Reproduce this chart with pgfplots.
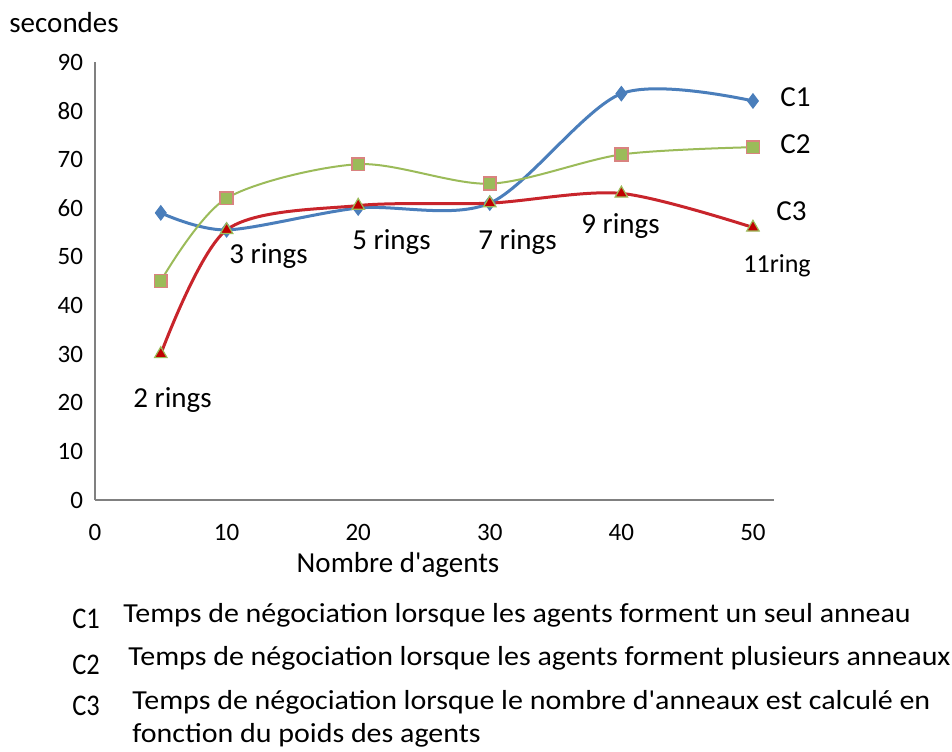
\documentclass[border=0pt]{standalone}
\usepackage{fontspec}
\setmainfont{Carlito}[Ligatures=TeXOff]
\newfontfamily\legfont{Carlito}[Ligatures=TeXOff, FakeStretch=1.09]
\newfontfamily\cfont{Carlito}[Ligatures=TeXOff, FakeStretch=0.88]
\usepackage{pgfplots}
\pgfplotsset{compat=1.18}
\definecolor{cblue}{HTML}{4A7EBB}
\definecolor{cgreen}{HTML}{9BBB59}
\definecolor{cred}{HTML}{C8242B}
\definecolor{cpink}{HTML}{D9837F}
\definecolor{cdark}{HTML}{C00000}
\begin{document}
\begin{tikzpicture}
\path[use as bounding box] (0,0) rectangle (476pt,-375.5pt);
\begin{axis}[
  at={(47.5pt,-250pt)}, anchor=south west,
  scale only axis, width=339.5pt, height=219pt,
  xmin=0, xmax=51.6, ymin=0, ymax=90,
  axis x line=bottom, axis y line=left,
  axis line style={-, draw=gray, line width=0.6pt},
  xtick={0,10,20,30,40,50}, ytick={0,10,20,30,40,50,60,70,80,90},
  major tick length=0pt,
  tick label style={font=\fontsize{12.5}{14}\selectfont, text=black},
  yticklabel style={xshift=-2.5pt},
  xticklabel style={yshift=-8.5pt},
  /pgf/number format/assume math mode=true,
  clip=false,
]
\addplot[cblue, line width=1.5pt, smooth, mark=diamond*, mark size=3.6pt, mark options={fill=cblue, draw=cblue, line width=0.5pt}]
  coordinates {(5,59) (10,55.5) (20,60) (30,61) (40,83.5) (50,82)};
\addplot[cgreen, line width=1pt, smooth, mark=square*, mark size=3.2pt, mark options={fill=cgreen, draw=cpink, line width=0.8pt}]
  coordinates {(5,45) (10,62) (20,69) (30,65) (40,71) (50,72.5)};
\addplot[cred, line width=1.5pt, smooth, mark=triangle*, mark size=3.6pt, mark options={fill=cdark, draw=cgreen, line width=0.6pt}]
  coordinates {(5,30) (10,55.5) (20,60.5) (30,61) (40,63) (50,56)};
\end{axis}
\begin{scope}[x=0.5pt, y=-0.5pt, inner sep=0pt, text=black]
\def\fa{\fontsize{14.5}{17}\selectfont}
\node[anchor=base west, font=\fa] at (9,32) {secondes};
\node[anchor=base, font=\fa] at (398,572) {Nombre d'agents};
\node[anchor=base west, font=\fa] at (133,407) {2 rings};
\node[anchor=base west, font=\fa] at (229,263) {3 rings};
\node[anchor=base west, font=\fa] at (352,249) {5 rings};
\node[anchor=base west, font=\fa] at (478,249) {7 rings};
\node[anchor=base west, font=\fa] at (581,233) {9 rings};
\node[anchor=base west, font=\fontsize{13}{15}\selectfont] at (743,272) {11ring};
\node[anchor=base west, font=\fa] at (780,106) {C1};
\node[anchor=base west, font=\fa] at (780,153) {C2};
\node[anchor=base west, font=\fa] at (776,220) {C3};
\def\fc{\cfont\fontsize{15}{17}\selectfont}
\def\fl{\legfont\fontsize{13.75}{16}\selectfont}
\node[anchor=base west, font=\fc] at (72,628) {C1};
\node[anchor=base west, font=\fl] at (123,622) {Temps de négociation lorsque les agents forment un seul anneau};
\node[anchor=base west, font=\fc] at (72,674) {C2};
\node[anchor=base west, font=\fl] at (128,665) {Temps de négociation lorsque les agents forment plusieurs anneaux};
\node[anchor=base west, font=\fc] at (72,715) {C3};
\node[anchor=base west, font=\fl] at (132,709) {Temps de négociation lorsque le nombre d'anneaux est calculé en};
\node[anchor=base west, font=\fl] at (132,742) {fonction du poids des agents};
\end{scope}
\end{tikzpicture}
\end{document}
